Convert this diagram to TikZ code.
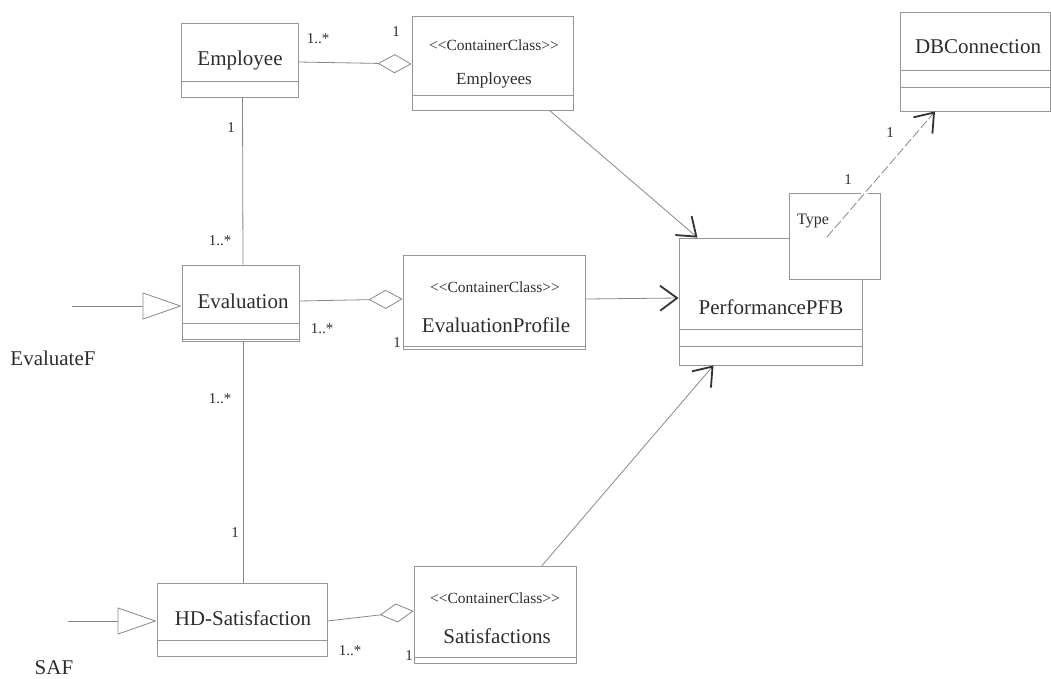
\documentclass[tikz,border=0pt]{standalone}
\usepackage{fontspec}
\setmainfont{Liberation Serif}
\usetikzlibrary{arrows.meta}
\definecolor{edge}{RGB}{150,150,150}
\definecolor{wire}{RGB}{135,135,135}
\definecolor{ink}{RGB}{45,45,45}
\definecolor{tipink}{RGB}{50,50,50}
\newcommand{\stereotype}[1]{{<}{<}#1{>}{>}}
\tikzset{
  classbox/.style={draw=edge, line width=0.8pt, fill=white, inner sep=0pt},
  divider/.style={draw=edge, line width=0.8pt},
  cname/.style={text=ink, inner sep=0pt, font=\fontsize{21}{24}\selectfont},
  stereo/.style={text=ink, inner sep=0pt, font=\fontsize{15.5}{18}\selectfont},
  mult/.style={text=ink, inner sep=0pt, font=\fontsize{15}{17}\selectfont},
  assoc/.style={draw=wire, line width=0.8pt},
  aggr/.style={assoc, -{Diamond[open, length=34pt, width=19pt, line width=0.8pt]}},
  inherit/.style={assoc, -{Triangle[open, length=39pt, width=27pt, line width=0.8pt]}},
  depend/.style={assoc, -{Straight Barb[length=17pt, width=25pt, line width=1.8pt, color=tipink]}},
}
\begin{document}
\begin{tikzpicture}[x=1pt, y=-1pt]
\useasboundingbox (0,0) rectangle (1051,678);

% class boxes
\node[classbox, minimum width=117pt, minimum height=74pt] (employee) at (239.5,60) {};
\draw[divider] (181,81) -- (298,81);
\node[cname] (employeeT) at (240,60) {Employee};

\node[classbox, minimum width=161pt, minimum height=94pt] (employees) at (492.5,63) {};
\draw[divider] (412,95) -- (573,95);
\node[stereo] (employeesS) at (494,45) {\stereotype{ContainerClass}};
\node[stereo, font=\fontsize{17}{20}\selectfont] (employeesT) at (494,80) {Employees};

\node[classbox, minimum width=150pt, minimum height=99pt] (db) at (975,61.5) {};
\draw[divider] (900,70) -- (1050,70);
\draw[divider] (900,87) -- (1050,87);
\node[cname] (dbT) at (978,47) {DBConnection};

\node[classbox, minimum width=117pt, minimum height=76pt] (evaluation) at (240.5,303) {};
\draw[divider] (182,323) -- (299,323);
\draw[divider] (182,339) -- (299,339);
\node[cname] (evaluationT) at (243,301) {Evaluation};

\node[classbox, minimum width=182pt, minimum height=94pt] (profile) at (494,302) {};
\draw[divider] (403,346) -- (585,346);
\node[stereo] (profileS) at (495,287) {\stereotype{ContainerClass}};
\node[cname] (profileT) at (496,325) {EvaluationProfile};

\node[classbox, minimum width=183pt, minimum height=127pt] (pfb) at (770.5,301.5) {};
\draw[divider] (679,329) -- (862,329);
\draw[divider] (679,346) -- (862,346);
\node[cname] (pfbT) at (771,307) {PerformancePFB};

\node[classbox, minimum width=91pt, minimum height=86pt] (type) at (834.5,236) {};
\node[stereo, font=\fontsize{16}{19}\selectfont] (typeT) at (813,221) {Type};

\node[classbox, minimum width=170pt, minimum height=73pt] (hd) at (242,619.5) {};
\draw[divider] (157,640) -- (327,640);
\node[cname] (hdT) at (243,618) {HD-Satisfaction};

\node[classbox, minimum width=162pt, minimum height=97pt] (sat) at (495,614.5) {};
\draw[divider] (414,657) -- (576,657);
\node[stereo] (satS) at (495,598) {\stereotype{ContainerClass}};
\node[cname] (satT) at (497,636) {Satisfactions};

% free ends of the generalisations
\coordinate (evalF) at (72,306);
\coordinate (safF) at (68,621);
\node[cname] (evalFT) at (53,358) {EvaluateF};
\node[cname] (safT) at (54,668) {SAF};

% aggregations
\draw[aggr] ([yshift=-2pt]employee.east) -- ([yshift=-1pt]employees.west);
\draw[aggr] ([yshift=2pt]evaluation.east) -- ([yshift=3pt]profile.west);
\draw[aggr] ([yshift=-1.5pt]hd.east) -- ([yshift=3.5pt]sat.west);

% associations between the entity classes
\draw[assoc] ([xshift=3pt]employee.south) -- ([xshift=2.5pt]evaluation.north);
\draw[assoc] ([xshift=2.5pt]evaluation.south) -- ([xshift=1pt]hd.north);

% generalisations
\draw[inherit] (evalF) -- (evalF -| evaluation.west);
\draw[inherit] (safF) -- (safF -| hd.west);

% dependencies
\draw[depend] ([xshift=57pt]employees.south) -- ([xshift=-73pt]pfb.north);
\draw[depend] ([yshift=3pt]profile.east) -- ([yshift=3.5pt]pfb.west);
\draw[depend] ([xshift=47pt]sat.north) -- ([xshift=-57pt]pfb.south);
\coordinate (typeEnd) at (827,237);
\draw[white, line width=5pt, shorten >=40pt, shorten <=30pt] (typeEnd) -- ([xshift=-40pt]db.south);
\draw[depend, dash pattern=on 9pt off 3pt] (typeEnd) -- ([xshift=-40pt]db.south);

% multiplicities
\node[mult] (m1) at (318,39) {1..*};
\node[mult] (m2) at (396,32) {1};
\node[mult] (m3) at (231,128) {1};
\node[mult] (m4) at (220,241) {1..*};
\node[mult] (m5) at (322,329) {1..*};
\node[mult] (m6) at (397,343) {1};
\node[mult] (m7) at (220,399) {1..*};
\node[mult] (m8) at (235,533) {1};
\node[mult] (m9) at (350,651) {1..*};
\node[mult] (m10) at (409,656) {1};
\node[mult, fill=white, inner sep=2pt] (m11) at (848,180) {1};
\node[mult] (m12) at (890,133) {1};
\end{tikzpicture}
\end{document}
